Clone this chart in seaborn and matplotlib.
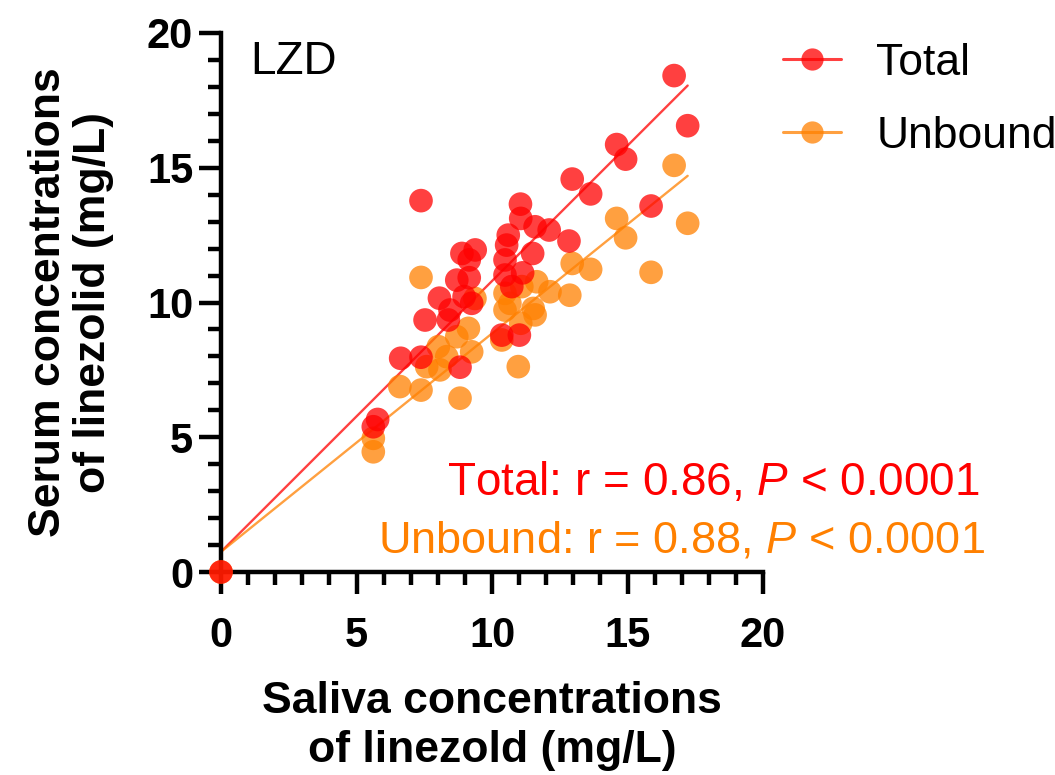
import numpy as np
import pandas as pd
import seaborn as sns
import matplotlib.pyplot as plt
from matplotlib.lines import Line2D
from matplotlib.ticker import MultipleLocator

# Valores (saliva x soro)
total_x = [0, 5.62, 5.78, 6.63, 7.38, 8.82, 7.53, 8.39, 8.45, 8.06, 8.97, 9.25, 8.70, 9.16,
           8.89, 9.38, 9.16, 7.38, 10.36, 11.01, 10.73, 10.48, 11.13, 10.48, 11.50, 10.54,
           10.60, 11.59, 12.11, 11.06, 11.05, 12.84, 12.96, 13.64, 14.60, 14.93, 15.87,
           16.72, 17.22]
total_y = [0, 5.39, 5.66, 7.93, 7.97, 7.60, 9.35, 9.35, 9.72, 10.16, 10.22, 9.97, 10.83, 10.92,
           11.82, 11.95, 11.58, 13.78, 8.79, 8.79, 10.59, 11.02, 11.10, 11.58, 11.82, 12.13,
           12.50, 12.81, 12.69, 13.12, 13.65, 12.28, 14.58, 14.03, 15.86, 15.32, 13.58,
           18.42, 16.56]

unbound_x = [0, 5.62, 5.62, 6.60, 7.38, 8.82, 7.59, 8.08, 8.33, 8.02, 9.25, 8.70, 9.13, 10.36,
             10.97, 10.48, 10.66, 11.06, 11.52, 11.59, 9.37, 10.48, 11.10, 11.65, 12.14, 7.38,
             12.87, 12.96, 13.64, 15.87, 14.60, 14.93, 16.72, 17.22]
unbound_y = [0, 4.96, 4.46, 6.88, 6.75, 6.45, 7.62, 7.50, 7.99, 8.36, 8.17, 8.73, 9.04, 8.61,
             7.62, 9.72, 9.97, 9.23, 9.78, 9.54, 10.15, 10.34, 10.59, 10.77, 10.40, 10.93,
             10.27, 11.45, 11.23, 11.12, 13.12, 12.40, 15.09, 12.94]

# Retas de regressão (extremos)
fit_x = [0, 17.22]
total_fit = [0.75, 18.05]
unbound_fit = [0.75, 14.70]

cores = {'Total': '#FF0000', 'Unbound': '#FF8000'}

# Unbound primeiro para que os pontos vermelhos fiquem por cima
pontos = pd.concat([
    pd.DataFrame({'saliva': unbound_x, 'soro': unbound_y, 'grupo': 'Unbound'}),
    pd.DataFrame({'saliva': total_x, 'soro': total_y, 'grupo': 'Total'}),
])
retas = pd.concat([
    pd.DataFrame({'saliva': fit_x, 'soro': total_fit, 'grupo': 'Total'}),
    pd.DataFrame({'saliva': fit_x, 'soro': unbound_fit, 'grupo': 'Unbound'}),
])

sns.set_theme(style='ticks', rc={'text.color': 'black', 'axes.labelcolor': 'black',
                                 'xtick.color': 'black', 'ytick.color': 'black',
                                 'axes.edgecolor': 'black'})
plt.rcParams['font.family'] = ['Liberation Sans', 'DejaVu Sans']
plt.rcParams['mathtext.fontset'] = 'custom'
plt.rcParams['mathtext.it'] = 'Liberation Sans:italic'
plt.rcParams['mathtext.rm'] = 'Liberation Sans'

fig = plt.figure(figsize=(10.55, 7.75), dpi=100)
ax = fig.add_axes([221 / 1055, 1 - 572 / 775, 542 / 1055, 539 / 775])

sns.lineplot(data=retas, x='saliva', y='soro', hue='grupo', palette=cores,
             linewidth=1.7, alpha=0.75, legend=False, ax=ax)
sns.scatterplot(data=pontos, x='saliva', y='soro', hue='grupo', palette=cores,
                s=290, alpha=0.75, edgecolor='none', legend=False, ax=ax,
                clip_on=False, zorder=5)

ax.set_xlim(0, 20)
ax.set_ylim(0, 20)
ax.xaxis.set_major_locator(MultipleLocator(5))
ax.yaxis.set_major_locator(MultipleLocator(5))
ax.xaxis.set_minor_locator(MultipleLocator(1))
ax.yaxis.set_minor_locator(MultipleLocator(1))
ax.tick_params(which='major', length=16, width=3.2, direction='out', labelsize=30)
ax.tick_params(which='minor', length=9.5, width=3.2, direction='out')
ax.tick_params(axis='x', which='major', pad=16)
ax.tick_params(axis='y', which='major', pad=4)
for lab in ax.get_xticklabels() + ax.get_yticklabels():
    lab.set_fontweight('bold')
sns.despine(ax=ax)
ax.spines['left'].set_linewidth(3.2)
ax.spines['bottom'].set_linewidth(3.2)

ax.set_xlabel('Saliva concentrations\nof linezold (mg/L)', fontsize=32, fontweight='bold',
              labelpad=18, linespacing=1.25)
ax.set_ylabel('Serum concentrations\nof linezolid (mg/L)', fontsize=32, fontweight='bold',
              labelpad=24, linespacing=1.12)

ax.text(250 / 1055, 1 - 62 / 775, 'LZD', transform=fig.transFigure, fontsize=33,
        ha='left', va='center')

fig.text(980 / 1055, 1 - 483 / 775, 'Total: r = 0.86, $P$ < 0.0001', color='#FF0000',
         fontsize=33, ha='right', va='center')
fig.text(985 / 1055, 1 - 541 / 775, 'Unbound: r = 0.88, $P$ < 0.0001', color='#FF8000',
         fontsize=32.5, ha='right', va='center')

# Legenda
alcas = [Line2D([], [], color=cores[g], alpha=0.75, lw=2.2, marker='o', markersize=16,
                markeredgewidth=0) for g in ['Total', 'Unbound']]
fig.legend(alcas, ['Total', 'Unbound'], loc='center left',
           bbox_to_anchor=(783 / 1055, 1 - 100 / 775), frameon=False, fontsize=32,
           handlelength=1.3, handletextpad=0.8, labelspacing=0.72, borderpad=0,
           borderaxespad=0)

plt.savefig('out.png', dpi=100)
plt.close()
